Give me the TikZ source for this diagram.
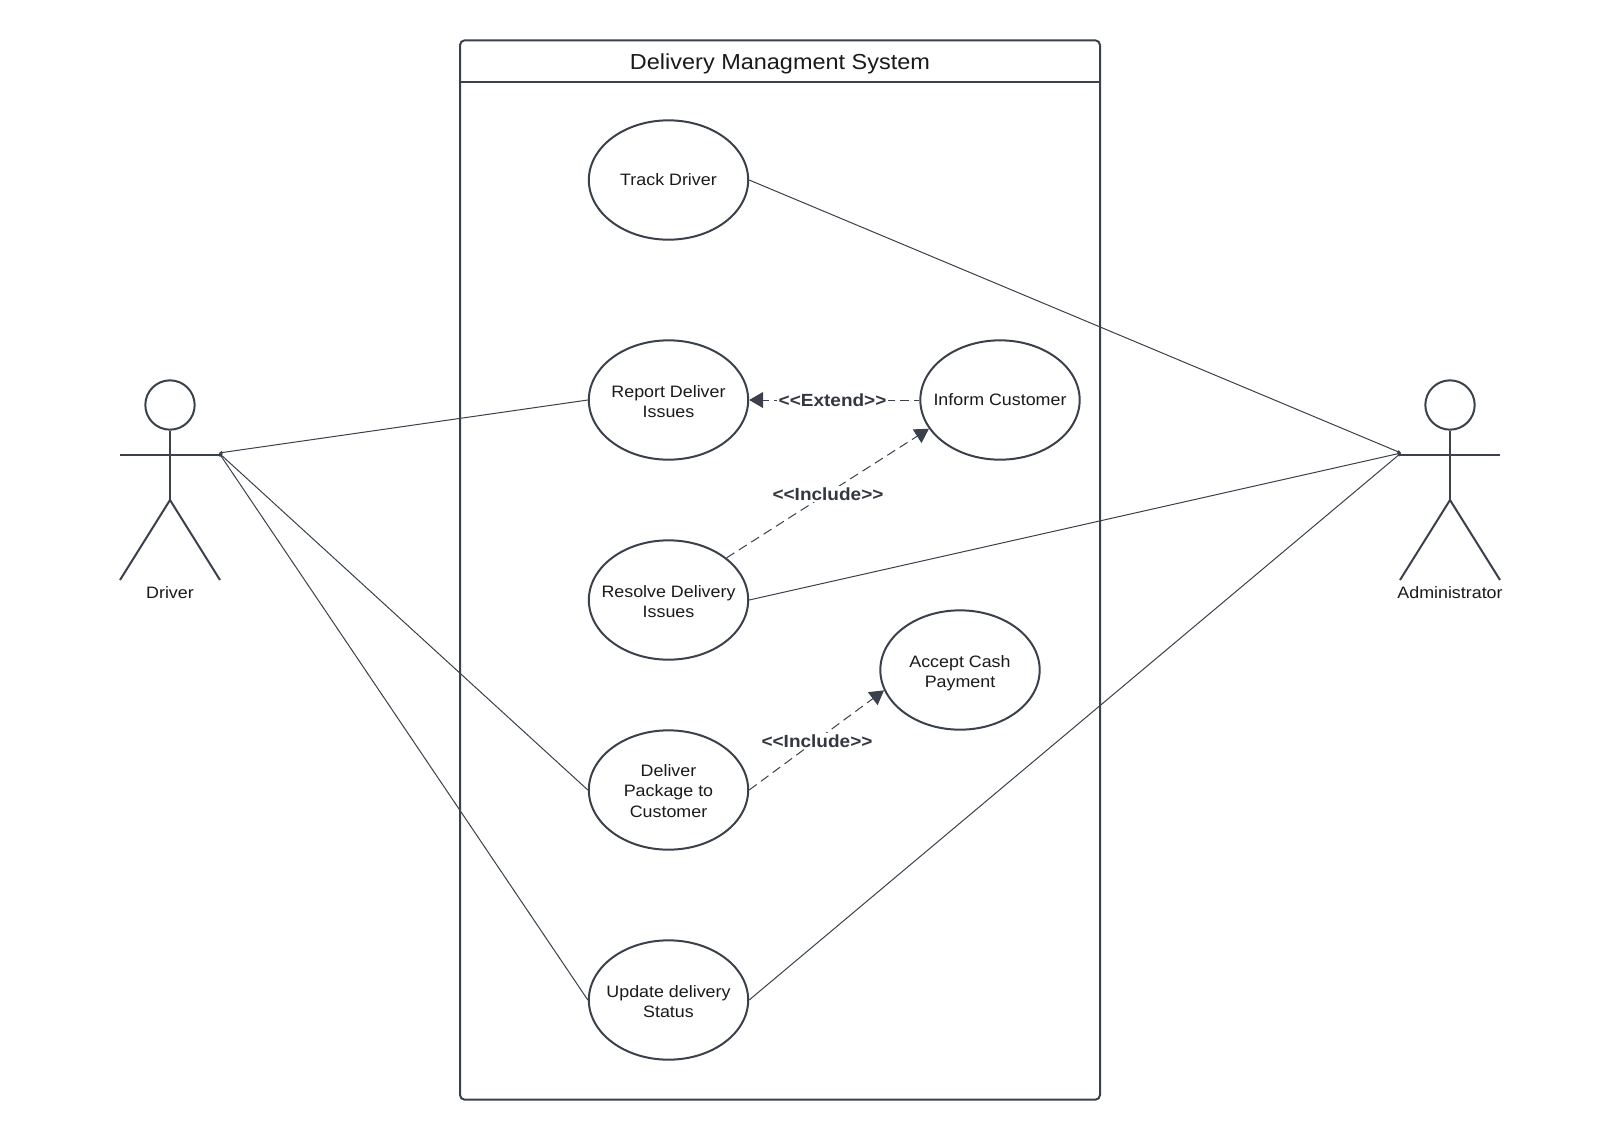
\documentclass[tikz,border=0pt]{standalone}
\usepackage{fontspec}
\setmainfont[FakeStretch=1.08,Ligatures=NoCommon]{Liberation Sans}
\usetikzlibrary{shapes.geometric,arrows.meta}
\definecolor{ink}{HTML}{3A414A}
\definecolor{txt}{HTML}{1A1A1A}
\definecolor{lab}{HTML}{333840}
\newcommand{\uctext}[2][1.5pt]{\makebox[0pt]{\smash{\raisebox{\dimexpr-#1-3.25pt\relax}{\begin{tabular}[c]{@{}c@{}}#2\end{tabular}}}}}
\tikzset{
  usecase/.style={draw=ink,line width=1.5pt,ellipse,minimum width=119.5pt,minimum height=89.5pt,inner sep=0pt,text=txt,font=\fontsize{12.4}{15.3}\selectfont},
  limb/.style={draw=ink,line width=1.5pt},
  head/.style={draw=ink,line width=1.5pt,circle,minimum size=37pt,inner sep=0pt},
  assoc/.style={draw=ink,line width=0.75pt,{Triangle[length=2.5pt,width=2.5pt]}-},
  dep/.style={draw=ink,line width=0.75pt,dash pattern=on 7pt off 4pt,-{Triangle[length=10.5pt,width=12pt]}},
  extdep/.style={dep,dash pattern=on 7pt off 3.5pt,dash phase=3pt},
  deplabel/.style={fill=white,inner sep=1pt,text=lab,font=\fontsize{13.2}{15}\selectfont\bfseries},
  actorlabel/.style={text=txt,font=\fontsize{12.4}{15}\selectfont,inner sep=0pt},
  frame/.style={draw=ink,line width=1.5pt,rounded corners=3.5pt,minimum width=480pt,minimum height=794.5pt,inner sep=0pt},
  titlelabel/.style={text=txt,font=\fontsize{16.3}{20}\selectfont,inner sep=0pt}
}
\begin{document}
\begin{tikzpicture}[x=0.75pt,y=-0.75pt]
\useasboundingbox[fill=white] (0,0) rectangle (1620,1140);
% system frame
\node[frame] (sys) at (780,570) {};
\coordinate (hl) at (460,81.5);
\coordinate (hr) at (1100,81.5);
\draw[limb] (hl) -- (hr);
\node[titlelabel] (title) at (780,64) {Delivery Managment System};
% use cases
\node[usecase] (track) at (668.5,180) {\uctext[0.75pt]{Track Driver}};
\node[usecase] (report) at (668.5,400) {\uctext[2.2pt]{Report Deliver\\Issues}};
\node[usecase] (resolve) at (668.5,600) {\uctext[2.2pt]{Resolve Delivery\\Issues}};
\node[usecase] (deliver) at (668.5,790) {\uctext[1.9pt]{Deliver\\Package to\\Customer}};
\node[usecase] (update) at (668.5,1000) {\uctext[2.2pt]{Update delivery\\Status}};
\node[usecase] (inform) at (1000,400) {\uctext[0.75pt]{Inform Customer}};
\node[usecase] (cash) at (960,670) {\uctext[2.2pt]{Accept Cash\\Payment}};
% driver
\node[head] (dhead) at (170,405) {};
\coordinate (dhipc) at (170,500);
\coordinate (darml) at (120,455);
\coordinate (darmr) at (220,455);
\coordinate (dlegl) at (120,580);
\coordinate (dlegr) at (220,580);
\coordinate (dhand) at (219,453);
\draw[limb] (dhead.south) -- (dhipc);
\draw[limb] (darml) -- (darmr);
\draw[limb] (dlegl) -- (dhipc) -- (dlegr);
\node[actorlabel] (dlabel) at (170,592.5) {Driver};
% administrator
\node[head] (ahead) at (1450,405) {};
\coordinate (ahipc) at (1450,500);
\coordinate (aarml) at (1400,455);
\coordinate (aarmr) at (1500,455);
\coordinate (alegl) at (1400,580);
\coordinate (alegr) at (1500,580);
\coordinate (ahand) at (1401,453);
\draw[limb] (ahead.south) -- (ahipc);
\draw[limb] (aarml) -- (aarmr);
\draw[limb] (alegl) -- (ahipc) -- (alegr);
\node[actorlabel] (alabel) at (1450,592.5) {Administrator};
% associations
\draw[assoc] (dhand) -- (report.west);
\draw[assoc] (dhand) -- (deliver.west);
\draw[assoc] (dhand) -- (update.west);
\draw[assoc] (ahand) -- (track.east);
\draw[assoc] (ahand) -- (resolve.east);
\draw[assoc] (ahand) -- (update.east);
% dependencies
\draw[extdep] (inform.west) -- (report.east) node[deplabel,pos=0.51] (extlab) {<{}<Extend>{}>};
\draw[dep] (resolve.36) -- (inform.202);
\node[deplabel] (inc1) at (828,494) {<{}<Include>{}>};
\draw[dep] (deliver.east) -- (cash.195);
\node[deplabel] (inc2) at (817,741) {<{}<Include>{}>};
\end{tikzpicture}
\end{document}
